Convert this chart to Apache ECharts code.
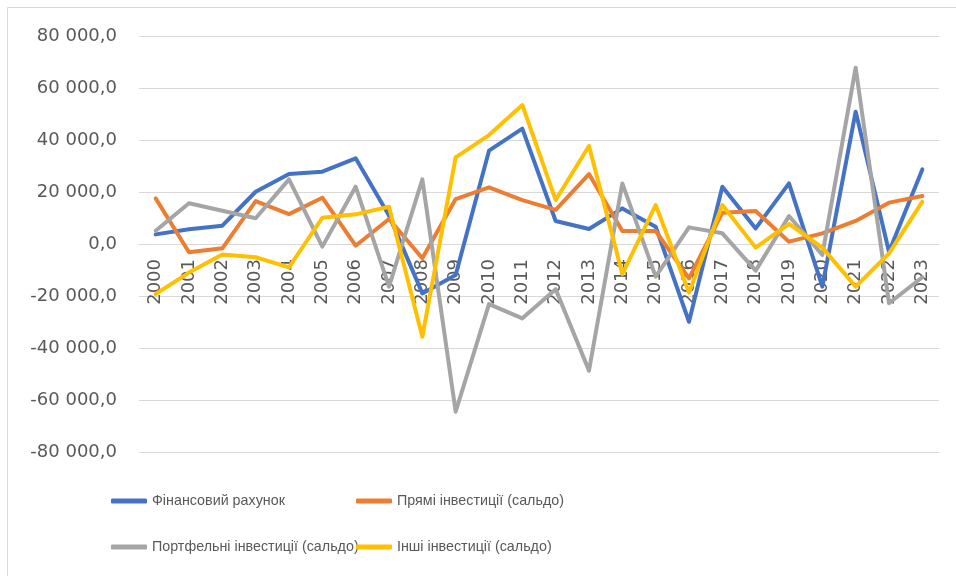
<!DOCTYPE html>
<html>
<head>
<meta charset="utf-8">
<script src="https://cdn.jsdelivr.net/npm/echarts@6/dist/echarts.min.js"></script>
<style>
html,body{margin:0;padding:0;background:#fff;}
#chart{width:956px;height:576px;}
</style>
</head>
<body>
<div id="chart"></div>
<script>
var years = ['2000','2001','2002','2003','2004','2005','2006','2007','2008','2009','2010','2011','2012','2013','2014','2015','2016','2017','2018','2019','2020','2021','2022','2023'];
var seriesNames = ['Фінансовий рахунок','Прямі інвестиції (сальдо)','Портфельні інвестиції (сальдо)','Інші інвестиції (сальдо)'];
var financial = [3700,5650,7050,20100,26900,27800,32950,11000,-19000,-11900,35900,44350,8850,5770,13700,6650,-29900,22050,6000,23300,-16400,50900,-2950,28700];
var direct = [17550,-3200,-1650,16500,11500,17800,-650,9600,-5500,17300,21800,16900,13100,26900,5000,5000,-13200,12050,12700,900,4100,8850,15900,18450];
var portfolio = [5100,15650,12800,9900,24850,-1000,22050,-16400,24850,-64500,-23100,-28600,-17400,-48700,23300,-12550,6400,4100,-10250,10750,-4200,67800,-22800,-12800];
var other = [-19250,-11000,-4000,-5100,-9000,10100,11400,14350,-35650,33300,41900,53450,16900,37700,-11550,15000,-18700,15000,-1400,7700,-1400,-16400,-3600,16300];
var colors = ['#4472C4','#ED7D31','#A5A5A5','#FFC000'];
var dataSets = [financial, direct, portfolio, other];

var chart = echarts.init(document.getElementById('chart'), null, {renderer:'canvas'});
var axisFont = 'DejaVu Sans, sans-serif';
var legendFont = '"Liberation Sans", Arial, sans-serif';
function fmt(v){
  var neg = v < 0; var a = Math.abs(v);
  var s = String(Math.round(a)).replace(/\B(?=(\d{3})+(?!\d))/g, ' ');
  return (neg ? '-' : '') + s + ',0';
}
var gridTop = 36, gridBottom = 124, H = 576;
var plotH = H - gridTop - gridBottom; // 416
var zeroOffset = -plotH / 2; // zero at the middle of symmetric axis
var legendPos = [[111,494],[356,494],[111,540],[356,540]];
var legends = seriesNames.map(function(n,i){
  return {
    data:[n], left:legendPos[i][0], top:legendPos[i][1], padding:0,
    itemWidth:36, itemHeight:5, icon:'roundRect', itemGap:0,
    textStyle:{color:'#595959', fontSize:14.3, fontFamily:legendFont}
  };
});
chart.setOption({
  animation:false,
  graphic:[{type:'rect', shape:{x:7.5,y:7.5,width:960,height:580}, style:{fill:null, stroke:'#d9d9d9', lineWidth:1}, silent:true}],
  grid:{left:139, right:17, top:gridTop, bottom:gridBottom},
  legend: legends,
  xAxis:{
    type:'category', data:years, boundaryGap:true, position:'bottom', offset:zeroOffset,
    axisLine:{onZero:false, lineStyle:{color:'#d9d9d9', width:1}},
    axisTick:{show:false},
    axisLabel:{rotate:90, margin:15, color:'#595959', fontSize:18, fontFamily:axisFont, interval:0}
  },
  yAxis:{
    type:'value', min:-80000, max:80000, interval:20000,
    axisLine:{show:false}, axisTick:{show:false},
    splitLine:{lineStyle:{color:'#d9d9d9', width:1}},
    axisLabel:{margin:22, color:'#595959', fontSize:18, fontFamily:axisFont, formatter:fmt}
  },
  series: seriesNames.map(function(n,i){
    return {
      name:n, type:'line', data:dataSets[i], symbol:'none',
      lineStyle:{color:colors[i], width:4, cap:'round', join:'round'},
      itemStyle:{color:colors[i]}
    };
  })
});
</script>
</body>
</html>
